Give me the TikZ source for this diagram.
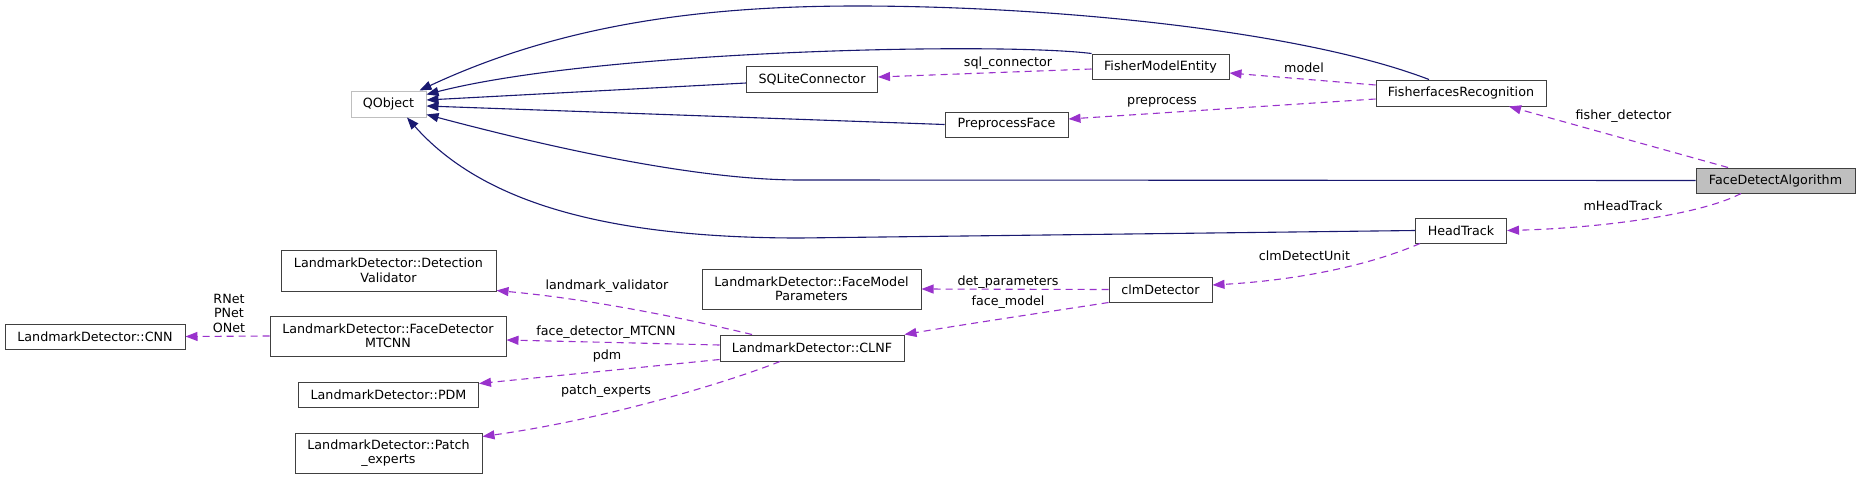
\documentclass[tikz,border=0pt]{standalone}
\usepackage{fontspec}
\setmainfont{DejaVu Sans}
\usetikzlibrary{arrows.meta,calc}
\definecolor{inhblue}{RGB}{25,25,112}
\definecolor{usepurple}{RGB}{153,50,204}
\definecolor{boxline}{RGB}{64,64,64}
\definecolor{rootline}{RGB}{191,191,191}
\definecolor{selfill}{RGB}{191,191,191}

\begin{document}
\begin{tikzpicture}[x=1pt, y=-1pt, font=\fontsize{12.7}{14.5}\selectfont,
  cls/.style={draw=boxline, fill=white, line width=1pt, inner sep=0pt,
    minimum height=25pt, align=center},
  inh/.style={draw=inhblue, line width=1.1pt, -{Triangle[length=12pt, width=9pt]}},
  use/.style={draw=usepurple, line width=1.1pt, dash pattern=on 7pt off 5pt,
    -{Triangle[length=12pt, width=9pt]}},
  lbl/.style={inner sep=0pt}]

  \path[use as bounding box, fill=white] (0,0) rectangle (1860,480);

  % classes
  \node[cls, draw=rootline, minimum width=75pt, minimum height=26pt] (qobj) at (388.5,104) {QObject};
  \node[cls, minimum width=131pt, minimum height=26pt] (sql) at (812,79) {SQLiteConnector};
  \node[cls, minimum width=137pt] (fme) at (1160.5,66.5) {FisherModelEntity};
  \node[cls, minimum width=123pt] (pf) at (1006.5,124.5) {PreprocessFace};
  \node[cls, minimum width=170pt, minimum height=26pt] (fr) at (1461,93) {FisherfacesRecognition};
  \node[cls, fill=selfill, minimum width=159pt] (fda) at (1775.5,180.5) {FaceDetectAlgorithm};
  \node[cls, minimum width=91pt] (ht) at (1461,230.5) {HeadTrack};
  \node[cls, minimum width=103pt] (clm) at (1160.5,289.5) {clmDetector};
  \node[cls, minimum width=219pt, minimum height=40pt] (fmp) at (811.5,289) {LandmarkDetector::FaceModel\\Parameters};
  \node[cls, minimum width=184pt, minimum height=26pt] (clnf) at (812,348) {LandmarkDetector::CLNF};
  \node[cls, minimum width=215pt, minimum height=41pt] (dv) at (388.5,270.5) {LandmarkDetector::Detection\\Validator};
  \node[cls, minimum width=236pt, minimum height=40pt] (mtcnn) at (388,336) {LandmarkDetector::FaceDetector\\MTCNN};
  \node[cls, minimum width=180pt] (cnn) at (95,336.5) {LandmarkDetector::CNN};
  \node[cls, minimum width=180pt] (pdm) at (388.5,394.5) {LandmarkDetector::PDM};
  \node[cls, minimum width=187pt, minimum height=40pt] (patch) at (388.5,453) {LandmarkDetector::Patch\\\_experts};

  % inheritance
  \draw[inh] ($(fr.north)+(-32,0)$) .. controls (1300,30) and (1050,6) .. (857,6)
    .. controls (700,6) and (560,25) .. ($(qobj.north east)+(-7,0)$);
  \draw[inh] (fme.north west) .. controls (1000,42) and (600,50) .. ($(qobj.north east)+(0,4)$);
  \draw[inh] ($(sql.west)+(0,4)$) -- ($(qobj.east)+(0,-4)$);
  \draw[inh] (pf.west) -- ($(qobj.east)+(0,2)$);
  \draw[inh] (fda.west) -- (800,180) .. controls (700,180) and (560,150) .. ($(qobj.south east)+(0,-3)$);
  \draw[inh] (ht.west) -- (800,238) .. controls (600,238) and (480,200) .. ($(qobj.south)+(18.5,0)$);

  % usage
  \draw[use] ($(fme.west)+(0,2.5)$) -- ($(sql.east)+(0,-2)$);
  \draw[use] ($(fr.west)+(0,-8)$) -- ($(fme.east)+(0,6.5)$);
  \draw[use] ($(fr.west)+(0,6)$) -- ($(pf.east)+(0,-5.5)$);
  \draw[use] ($(fda.north)+(-47.5,0)$) -- ($(fr.south)+(48,0)$);
  \draw[use] ($(fda.south)+(-34.5,0)$) .. controls (1700,215) and (1600,228) .. (ht.east);
  \draw[use] ($(ht.south)+(-41,0)$) .. controls (1370,265) and (1300,280) .. ($(clm.east)+(0,-4.5)$);
  \draw[use] (clm.west) -- (fmp.east);
  \draw[use] (clm.south west) .. controls (1060,310) and (960,325) .. (clnf.north east);
  \draw[use] ($(clnf.north)+(-60,0)$) .. controls (700,322) and (600,300) .. ($(dv.south east)+(0,-1)$);
  \draw[use] ($(clnf.west)+(0,-3)$) -- ($(mtcnn.east)+(0,4)$);
  \draw[use] ($(clnf.south west)+(0,-2)$) -- ($(pdm.north east)+(0,2)$);
  \draw[use] ($(clnf.south)+(-32,0)$) .. controls (720,385) and (600,420) .. ($(patch.north east)+(0,4)$);
  \draw[use] (mtcnn.west) -- (cnn.east);

  % member names
  \node[lbl] (lsql) at (1008,63) {sql\_connector};
  \node[lbl] (lmodel) at (1304,68) {model};
  \node[lbl] (lpre) at (1162,102) {preprocess};
  \node[lbl] (lfisher) at (1623.5,116) {fisher\_detector};
  \node[lbl] (lhead) at (1623,206) {mHeadTrack};
  \node[lbl] (lclmu) at (1304.5,256) {clmDetectUnit};
  \node[lbl] (ldet) at (1008,282) {det\_parameters};
  \node[lbl] (lfm) at (1008,302) {face\_model};
  \node[lbl] (lval) at (607,286) {landmark\_validator};
  \node[lbl] (lmtcnn) at (606,332) {face\_detector\_MTCNN};
  \node[lbl] (lpdm) at (607,356) {pdm};
  \node[lbl] (lpatch) at (606,391) {patch\_experts};
  \node[lbl, align=center] (lnets) at (229,313) {RNet\\PNet\\ONet};
\end{tikzpicture}
\end{document}
